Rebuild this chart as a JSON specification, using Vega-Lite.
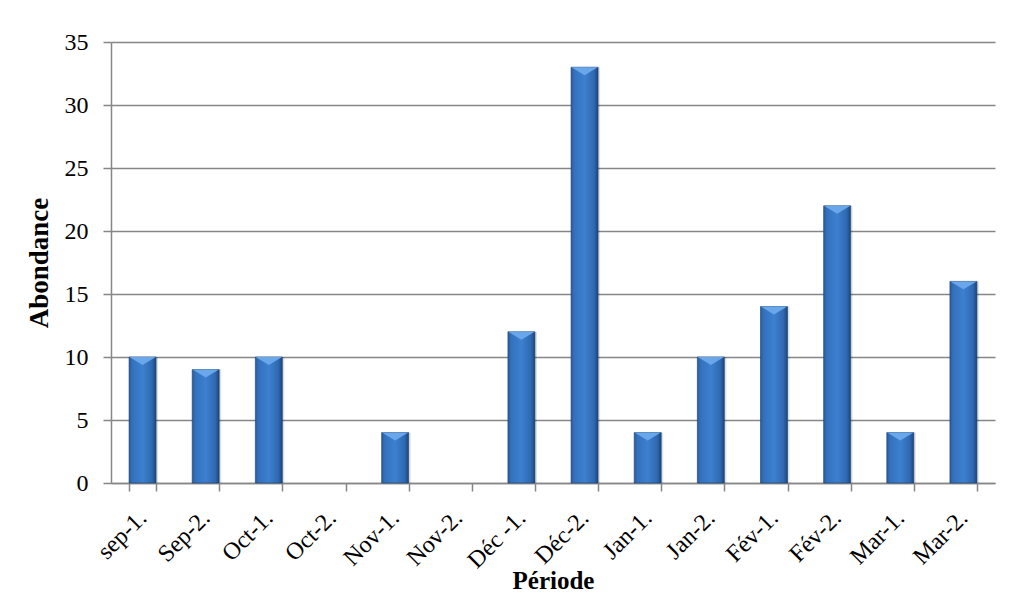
{
  "$schema": "https://vega.github.io/schema/vega-lite/v6.json",
  "autosize": {"type": "none"},
  "padding": {"left": 111, "top": 42, "right": 18, "bottom": 111},
  "width": 884,
  "height": 441,
  "background": "white",
  "config": {
    "view": {"stroke": null},
    "font": "Times New Roman, Liberation Serif, serif",
    "axis": {
      "labelFont": "Times New Roman, Liberation Serif, serif",
      "titleFont": "Times New Roman, Liberation Serif, serif",
      "labelColor": "black",
      "titleColor": "black",
      "domainColor": "#868686",
      "tickColor": "#868686",
      "gridColor": "#868686",
      "domainWidth": 1.5,
      "tickWidth": 1.5,
      "gridWidth": 1.5
    }
  },
  "data": {
    "values": [
      {"periode": "sep-1.", "abondance": 10},
      {"periode": "Sep-2.", "abondance": 9},
      {"periode": "Oct-1.", "abondance": 10},
      {"periode": "Oct-2.", "abondance": 0},
      {"periode": "Nov-1.", "abondance": 4},
      {"periode": "Nov-2.", "abondance": 0},
      {"periode": "Déc -1.", "abondance": 12},
      {"periode": "Déc-2.", "abondance": 33},
      {"periode": "Jan-1.", "abondance": 4},
      {"periode": "Jan-2.", "abondance": 10},
      {"periode": "Fév-1.", "abondance": 14},
      {"periode": "Fév-2.", "abondance": 22},
      {"periode": "Mar-1.", "abondance": 4},
      {"periode": "Mar-2.", "abondance": 16}
    ]
  },
  "encoding": {
    "x": {
      "field": "periode",
      "type": "nominal",
      "sort": null,
      "scale": {
        "domain": ["sep-1.", "Sep-2.", "Oct-1.", "Oct-2.", "Nov-1.", "Nov-2.", "Déc -1.", "Déc-2.", "Jan-1.", "Jan-2.", "Fév-1.", "Fév-2.", "Mar-1.", "Mar-2."],
        "paddingInner": 0.572,
        "paddingOuter": 0.286
      },
      "axis": {
        "title": "Période",
        "titleFontSize": 25,
        "titleFontWeight": "bold",
        "titlePadding": -4,
        "labelAngle": -45,
        "labelAlign": "right",
        "labelBaseline": "middle",
        "labelFontSize": 24,
        "labelPadding": 23,
        "tickSize": 8,
        "tickBand": "extent",
        "grid": false
      }
    },
    "y": {
      "field": "abondance",
      "type": "quantitative",
      "scale": {"domain": [0, 35], "nice": false},
      "axis": {
        "title": "Abondance",
        "titleFontSize": 27,
        "titleFontWeight": "bold",
        "titlePadding": 11,
        "values": [0, 5, 10, 15, 20, 25, 30, 35],
        "labelFontSize": 24,
        "labelPadding": 15,
        "tickSize": 8,
        "grid": true
      }
    }
  },
  "layer": [
    {
      "mark": {
        "type": "bar",
        "xOffset": 2,
        "y2Offset": 3,
        "color": "#000000",
        "opacity": 0.12
      },
      "transform": [{"filter": "datum.abondance > 0"}]
    },
    {
      "mark": {
        "type": "bar",
        "stroke": "#1a3f6e",
        "strokeWidth": 0.6,
        "color": {
          "gradient": "linear",
          "x1": 0, "x2": 1, "y1": 0, "y2": 0,
          "stops": [
            {"offset": 0, "color": "#2a5c9c"},
            {"offset": 0.12, "color": "#3371bd"},
            {"offset": 0.5, "color": "#3d80d0"},
            {"offset": 0.85, "color": "#2f69b0"},
            {"offset": 1, "color": "#1b467c"}
          ]
        }
      },
      "transform": [{"filter": "datum.abondance > 0"}]
    },
    {
      "mark": {
        "type": "point",
        "filled": true,
        "shape": "M-1,0L1,0L0,0.6Z",
        "size": 700,
        "opacity": 1,
        "color": "#6aa6ea"
      },
      "transform": [{"filter": "datum.abondance > 0"}]
    }
  ]
}
